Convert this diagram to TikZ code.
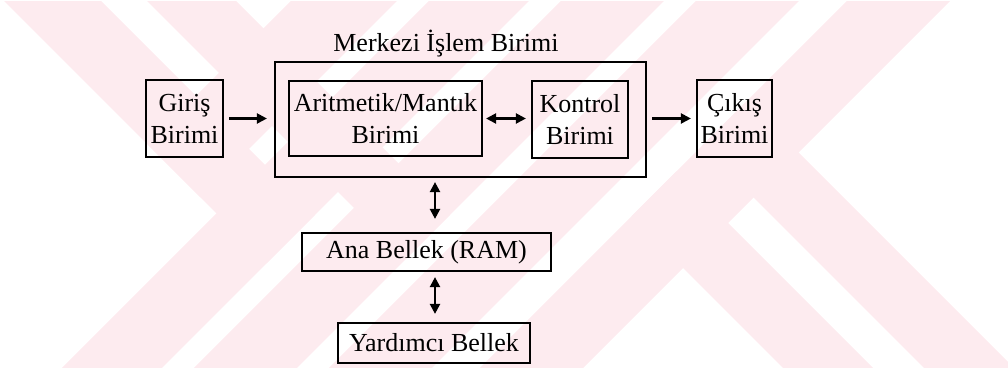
\documentclass[tikz,border=0pt]{standalone}
\usepackage{fontspec}
\setmainfont{Liberation Serif}
\usetikzlibrary{arrows.meta}
\definecolor{wmpink}{RGB}{253,235,239}

\begin{document}
\begin{tikzpicture}[x=0.5pt,y=-0.5pt,
  box/.style={draw=black, line width=1.1pt, inner sep=0pt, align=center,
              font=\fontsize{13}{16}\selectfont},
  lbl/.style={inner sep=0pt, font=\fontsize{13}{16}\selectfont},
  arr/.style={line width=1.1pt, -{Triangle[length=5pt,width=5pt]}},
  dbl/.style={line width=1.1pt, {Triangle[length=5pt,width=5pt]}-{Triangle[length=5pt,width=5pt]}},
]
\useasboundingbox (0,0) rectangle (1008,368);

% pale background emblem made of diagonal bands
\begin{scope}
  \clip (0,2) rectangle (1008,368);
  % left chevrons
  \fill[wmpink] (-98.5,-101.5) -- (-50,-150) -- (315,215) -- (266.5,263.5) -- cycle;
  \fill[wmpink] (-27,-173) -- (17.5,-217.5) -- (450,215) -- (405.5,259.5) -- cycle;
  % rising bars
  \fill[wmpink] (147.5,144.5) -- (200.5,197.5) -- (799,-401) -- (746,-454) -- cycle;
  \fill[wmpink] (-35,465) -- (15,515) -- (865,-335) -- (815,-385) -- cycle;
  \fill[wmpink] (31,531) -- (82.5,582.5) -- (932.5,-267.5) -- (881,-319) -- cycle;
  \fill[wmpink] (98.5,598.5) -- (150,650) -- (1000,-200) -- (948.5,-251.5) -- cycle;
  \fill[wmpink] (174,674) -- (225.5,725.5) -- (1075.5,-124.5) -- (1024,-176) -- cycle;
  % right arms
  \fill[wmpink] (631.5,216.5) -- (676.5,171.5) -- (1252.5,747.5) -- (1207.5,792.5) -- cycle;
  \fill[wmpink] (702,146) -- (747,101) -- (1323,677) -- (1278,722) -- cycle;
\end{scope}

% units
\node[box, minimum width=38.5pt, minimum height=38.5pt] (giris) at (184.5,118.5) {Giriş\\Birimi};
\node[box, minimum width=185.5pt, minimum height=57.5pt] (cpu) at (460.5,119.5) {};
\node[lbl, anchor=base] (title) at (446,52) {Merkezi İşlem Birimi};
\node[box, minimum width=96.5pt, minimum height=37.5pt] (alu) at (385.5,118.5) {Aritmetik/Mantık\\Birimi};
\node[box, minimum width=48pt, minimum height=38.5pt] (kontrol) at (580,119.5) {Kontrol\\Birimi};
\node[box, minimum width=37.5pt, minimum height=38.5pt] (cikis) at (734.5,118.5) {Çıkış\\Birimi};
\node[box, minimum width=124.5pt, minimum height=19pt] (ram) at (426.5,252) {Ana Bellek (RAM)};
\node[box, minimum width=96pt, minimum height=20pt] (yard) at (434,343) {Yardımcı Bellek};

% data paths
\coordinate (vx) at (435,0);
\draw[arr, shorten <=2.5pt, shorten >=3.5pt] (giris.east) -- (giris.east -| cpu.west);
\draw[dbl, shorten <=1.5pt, shorten >=2.5pt] (alu.east) -- (alu.east -| kontrol.west);
\draw[arr, shorten <=2.5pt, shorten >=2.5pt] (cikis.west -| cpu.east) -- (cikis.west);
\draw[dbl, shorten <=2pt, shorten >=6.5pt] (cpu.south -| vx) -- (ram.north -| vx);
\draw[dbl, shorten <=2.5pt, shorten >=4pt] (ram.south -| vx) -- (yard.north -| vx);
\end{tikzpicture}
\end{document}
